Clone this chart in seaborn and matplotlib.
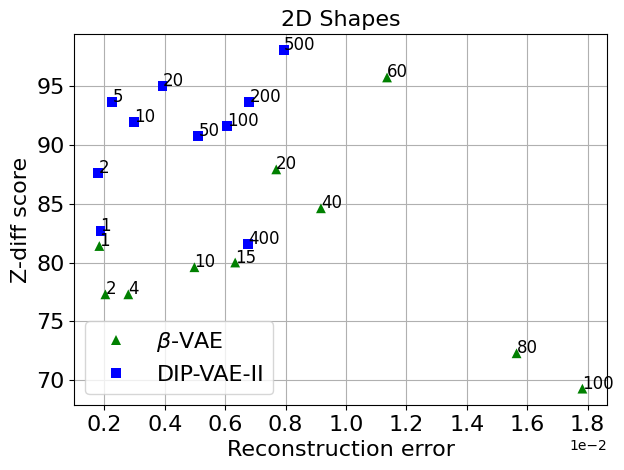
import numpy as np
import pandas as pd
import seaborn as sns
import matplotlib.pyplot as plt

# beta-VAE (reconstruction error, z-diff score, beta)
beta_err = [0.183, 0.203, 0.279, 0.498, 0.633, 0.769, 0.917, 1.136, 1.565, 1.783]
beta_score = [81.4, 77.3, 77.3, 79.6, 80.0, 87.9, 84.6, 95.7, 72.3, 69.3]
beta_lbl = ["1", "2", "4", "10", "15", "20", "40", "60", "80", "100"]

# DIP-VAE-II
dip_err = [0.187, 0.180, 0.226, 0.299, 0.392, 0.511, 0.607, 0.680, 0.676, 0.795]
dip_score = [82.7, 87.6, 93.6, 91.9, 95.0, 90.7, 91.6, 93.6, 81.6, 98.0]
dip_lbl = ["1", "2", "5", "10", "20", "50", "100", "200", "400", "500"]

df = pd.DataFrame({
    "err": np.array(beta_err + dip_err) * 1e-2,
    "score": beta_score + dip_score,
    "model": [r"$\beta$-VAE"] * len(beta_err) + ["DIP-VAE-II"] * len(dip_err),
    "lbl": beta_lbl + dip_lbl,
})

plt.figure(figsize=(6.24, 4.7), dpi=100)
ax = sns.scatterplot(data=df, x="err", y="score", hue="model", style="model",
                     palette=["green", "blue"], markers=["^", "s"],
                     s=50, linewidth=0)
for _, r in df.iterrows():
    ax.annotate(r["lbl"], (r["err"], r["score"]), fontsize=12)

ax.set_xlim(0.1e-2, 1.865e-2)
ax.set_ylim(67.9, 99.4)
ax.set_xticks(np.arange(0.2, 1.81, 0.2) * 1e-2)
ax.ticklabel_format(axis="x", style="sci", scilimits=(0, 0))
ax.grid(True, color="#b0b0b0")
ax.set_axisbelow(True)
ax.tick_params(labelsize=16)
ax.set_title("2D Shapes", fontsize=16)
ax.set_xlabel("Reconstruction error", fontsize=16)
ax.set_ylabel("Z-diff score", fontsize=16)
ax.legend(loc="lower left", fontsize=16, title=None)
plt.subplots_adjust(left=0.119, right=0.973, top=0.928, bottom=0.138)
plt.savefig("out.png", dpi=100)
